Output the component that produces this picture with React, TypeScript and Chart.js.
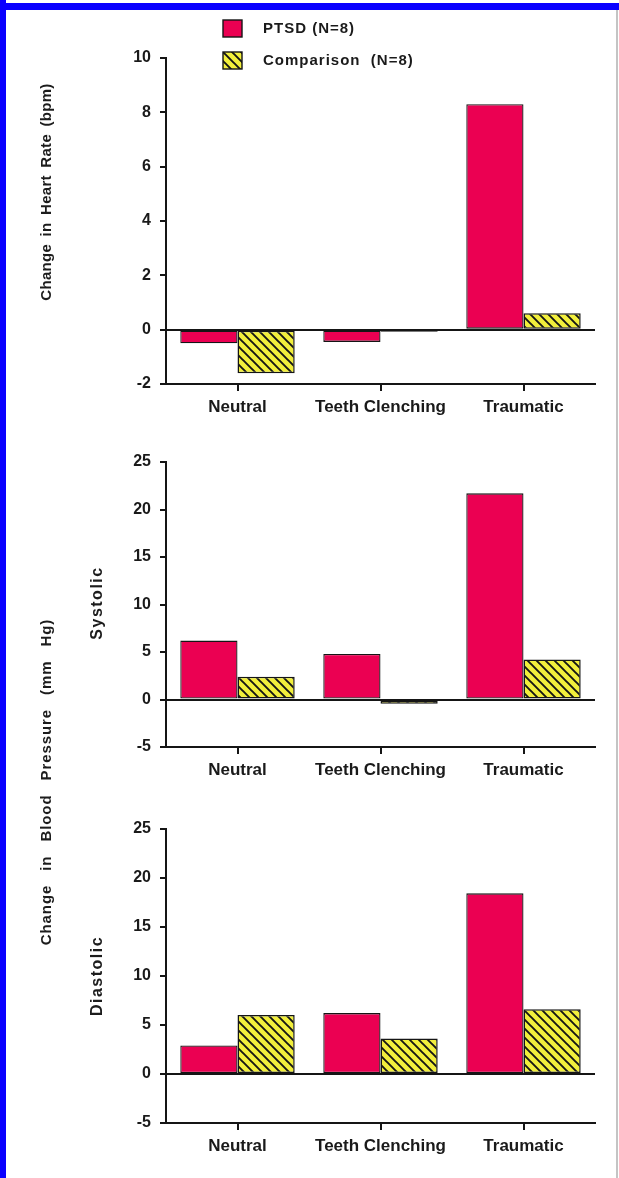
import React, { useEffect, useRef } from 'react';
import { Chart, registerables } from 'chart.js';

Chart.register(...registerables);

// ---------- data ----------
const categories = ['Neutral', 'Teeth Clenching', 'Traumatic'];
const seriesLabels = ['PTSD (N=8)', 'Comparison  (N=8)'];

const heartPtsd = [-0.5, -0.45, 8.3];
const heartComparison = [-1.6, -0.08, 0.6];

const systolicPtsd = [6.2, 4.8, 21.7];
const systolicComparison = [2.4, -0.45, 4.2];

const diastolicPtsd = [2.9, 6.2, 18.4];
const diastolicComparison = [6.0, 3.6, 6.6];

const heartTicks = [-2, 0, 2, 4, 6, 8, 10];
const pressureTicks = [-5, 0, 5, 10, 15, 20, 25];

// ---------- style ----------
const W = 619;
const H = 1178;
const AREA_LEFT = 166;
const AREA_RIGHT = 595;
const RED = '#EB0052';
const YELLOW = '#F2EF3C';
const INK = '#151515';
const FONT = '"Liberation Sans", Arial, Helvetica, sans-serif';

function makeHatch(): CanvasPattern | string {
  const s = 9;
  const c = document.createElement('canvas');
  c.width = s;
  c.height = s;
  const g = c.getContext('2d');
  if (!g) return YELLOW;
  g.fillStyle = YELLOW;
  g.fillRect(0, 0, s, s);
  g.strokeStyle = INK;
  g.lineWidth = 1.9;
  g.beginPath();
  g.moveTo(-2, -2);
  g.lineTo(s + 2, s + 2);
  g.moveTo(-2, s - 2);
  g.lineTo(2, s + 2);
  g.moveTo(s - 2, -2);
  g.lineTo(s + 2, 2);
  g.stroke();
  return g.createPattern(c, 'repeat') || YELLOW;
}

const legendPlugin = {
  id: 'boxLegend',
  afterDraw(chart: any) {
    const ctx = chart.ctx as CanvasRenderingContext2D;
    ctx.save();
    chart.data.datasets.forEach((ds: any, i: number) => {
      const y = 20 + i * 32;
      ctx.fillStyle = ds.backgroundColor;
      ctx.fillRect(223, y, 19, 17);
      ctx.strokeStyle = INK;
      ctx.lineWidth = 1.4;
      ctx.strokeRect(223, y, 19, 17);
      ctx.fillStyle = '#1a1a1a';
      ctx.font = `bold 15px ${FONT}`;
      (ctx as any).letterSpacing = '1px';
      ctx.textBaseline = 'middle';
      ctx.textAlign = 'left';
      ctx.fillText(ds.label, 263, y + 9);
    });
    ctx.restore();
  },
};

type PanelProps = {
  top: number;
  height: number;
  areaTop: number;
  areaBottom: number;
  ptsd: number[];
  comparison: number[];
  ticks: number[];
  legend?: boolean;
};

function BarPanel({ top, height, areaTop, areaBottom, ptsd, comparison, ticks, legend }: PanelProps) {
  const ref = useRef<HTMLCanvasElement | null>(null);

  useEffect(() => {
    if (!ref.current) return;
    const hatch = makeHatch();
    const tickFont = { family: FONT, size: 16, weight: 'bold' as const };
    const chart = new Chart(ref.current, {
      type: 'bar',
      data: {
        labels: categories,
        datasets: [
          {
            label: seriesLabels[0],
            data: ptsd,
            backgroundColor: RED,
            borderColor: INK,
            borderWidth: 1.3,
            borderSkipped: false,
          },
          {
            label: seriesLabels[1],
            data: comparison,
            backgroundColor: hatch as any,
            borderColor: INK,
            borderWidth: 1.5,
            borderSkipped: false,
          },
        ],
      },
      options: {
        responsive: false,
        animation: false,
        devicePixelRatio: 1,
        datasets: { bar: { categoryPercentage: 0.8, barPercentage: 1.0 } },
        layout: { padding: { top: areaTop - top, right: W - AREA_RIGHT, left: 0, bottom: 0 } },
        plugins: { legend: { display: false }, tooltip: { enabled: false } },
        scales: {
          x: {
            type: 'category',
            grid: {
              offset: false,
              drawOnChartArea: false,
              tickLength: 7,
              color: INK,
              lineWidth: 2,
            },
            border: { color: INK, width: 2 },
            ticks: {
              font: { family: FONT, size: 17, weight: 'bold' },
              color: '#1a1a1a',
              padding: 6,
              maxRotation: 0,
              autoSkip: false,
            },
            afterFit: (s: any) => {
              s.height = top + height - areaBottom;
            },
          },
          y: {
            min: ticks[0],
            max: ticks[ticks.length - 1],
            ticks: {
              stepSize: ticks[1] - ticks[0],
              font: tickFont,
              color: '#1a1a1a',
              padding: 9,
            },
            grid: {
              color: (c: any) => (c.tick && c.tick.value === 0 ? INK : 'rgba(0,0,0,0)'),
              tickColor: INK,
              lineWidth: 2,
              tickLength: 6,
              drawOnChartArea: true,
            },
            border: { color: INK, width: 2 },
            afterFit: (s: any) => {
              s.width = AREA_LEFT;
            },
          },
        },
      },
      plugins: legend ? [legendPlugin] : [],
    } as any);
    return () => chart.destroy();
  }, []);

  return (
    <canvas
      ref={ref}
      width={W}
      height={height}
      style={{ position: 'absolute', left: 0, top, width: W, height, display: 'block' }}
    />
  );
}

function SideLabel({ text, cx, cy, size, spacing, wordSpacing }: { text: string; cx: number; cy: number; size: number; spacing: number; wordSpacing: number }) {
  return (
    <div
      style={{
        position: 'absolute',
        left: cx,
        top: cy,
        transform: 'translate(-50%, -50%) rotate(-90deg)',
        whiteSpace: 'nowrap',
        fontFamily: FONT,
        fontWeight: 'bold',
        fontSize: size,
        letterSpacing: spacing,
        wordSpacing,
        color: '#1c1c1c',
        lineHeight: 1,
      }}
    >
      {text}
    </div>
  );
}

export default function App() {
  return (
    <div
      style={{
        position: 'absolute',
        left: 0,
        top: 0,
        width: W,
        height: H,
        background: '#ffffff',
        overflow: 'hidden',
      }}
    >
      <BarPanel top={0} height={430} areaTop={58} areaBottom={384} ptsd={heartPtsd} comparison={heartComparison} ticks={heartTicks} legend />
      <BarPanel top={430} height={380} areaTop={462} areaBottom={747} ptsd={systolicPtsd} comparison={systolicComparison} ticks={pressureTicks} />
      <BarPanel top={810} height={368} areaTop={826} areaBottom={1123} ptsd={diastolicPtsd} comparison={diastolicComparison} ticks={pressureTicks} />

      <SideLabel text="Change in Heart Rate (bpm)" cx={45} cy={192} size={15} spacing={0.3} wordSpacing={3} />
      <SideLabel text="Change in Blood Pressure (mm Hg)" cx={45} cy={782} size={15} spacing={0.9} wordSpacing={9} />
      <SideLabel text="Systolic" cx={97} cy={603} size={16} spacing={1.5} wordSpacing={0} />
      <SideLabel text="Diastolic" cx={97} cy={976} size={16} spacing={1.5} wordSpacing={0} />

      <div style={{ position: 'absolute', left: 0, top: 0, width: 6, height: H, background: '#0A00FF' }} />
      <div style={{ position: 'absolute', left: 0, top: 3, width: W, height: 7, background: '#0A00FF' }} />
      <div style={{ position: 'absolute', left: 616, top: 10, width: 2, height: H - 10, background: '#c4c4c4' }} />
    </div>
  );
}
